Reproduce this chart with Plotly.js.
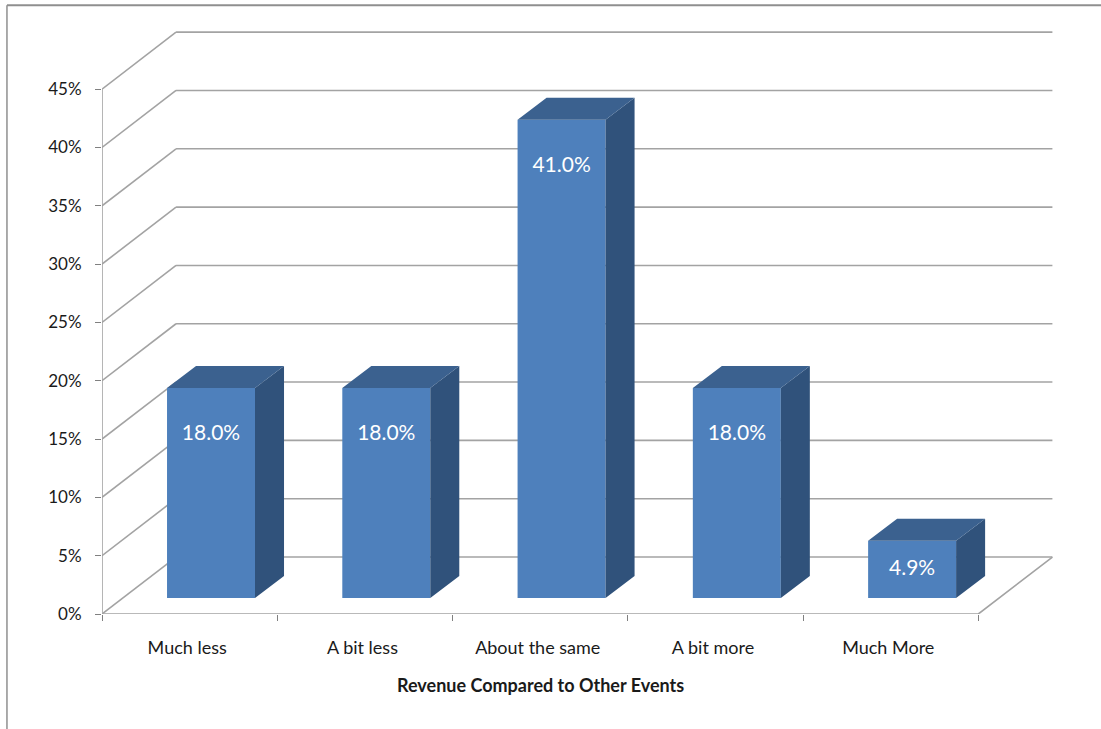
<!DOCTYPE html>
<html>
<head>
<meta charset="utf-8">
<script src="https://cdn.plot.ly/plotly-3.0.1.min.js"></script>
<style>html,body{margin:0;padding:0;background:#fff;overflow:hidden}#chart{width:1101px;height:729px}</style>
</head>
<body>
<div id="chart"></div>
<script>
// Survey responses
const categories = ['Much less', 'A bit less', 'About the same', 'A bit more', 'Much More'];
const shares = [18.0, 18.0, 41.0, 18.0, 4.9];
const yTicks = [0, 5, 10, 15, 20, 25, 30, 35, 40, 45];
const xTitle = 'Revenue Compared to Other Events';

// Oblique projection of the 3-D box, in axis units
const wallDx = 0.4224, wallDy = 4.886;   // depth of the floor and side wall
const barDx = 0.1655, barDy = 1.886;     // depth of one column
const barLift = 1.37, barShift = 0.122;  // front face sits partly into the floor
const barWidth = 0.502;

// Axis scale and plot box in pixels
const pxX = 175.2, pxY = 11.667, originX = 102, originY = 614;
const xMax = 5.5, yMax = 50.5;
const W = 1101, H = 729;
const marginL = originX, marginB = H - originY;
const marginR = W - (originX + xMax * pxX), marginT = originY - yMax * pxY;
const plotW = xMax * pxX, plotH = yMax * pxY;

const gridColor = '#a3a3a3', frameColor = '#8f8f8f';
const textColor = '#1a1a1a', fontFamily = 'Lato, sans-serif';
const n = categories.length;

function line(x0, y0, x1, y1) {
  return {type: 'line', xref: 'x', yref: 'y', layer: 'below', x0, y0, x1, y1,
          line: {color: gridColor, width: 1.6}};
}

// Back wall rules and side wall diagonals for every tick, hidden behind the columns
const shapes = [];
yTicks.forEach(t => {
  shapes.push(line(wallDx, t + wallDy, n + wallDx, t + wallDy));
  shapes.push(line(0, t, wallDx, t + wallDy));
});

// Outer chart frame, running off the right and bottom of the page
const frameLeft = (7 - marginL) / plotW;
const frameTop = 1 + (marginT - 5) / plotH;
shapes.push({type: 'line', xref: 'paper', yref: 'paper', x0: frameLeft, x1: (W - marginL) / plotW,
             y0: frameTop, y1: frameTop, line: {color: frameColor, width: 2}});
shapes.push({type: 'line', xref: 'paper', yref: 'paper', x0: frameLeft, x1: frameLeft,
             y0: frameTop, y1: -marginB / plotH, line: {color: frameColor, width: 1.5}});

const left = i => i + 0.5 + barShift - barWidth / 2;
const right = i => i + 0.5 + barShift + barWidth / 2;
const topY = v => v + barLift;

const sideX = [], sideY = [], capX = [], capY = [];
shares.forEach((v, i) => {
  const r = right(i), l = left(i), t = topY(v);
  sideX.push(r, r + barDx, r + barDx, r, r, null);
  sideY.push(barLift, barLift + barDy, t + barDy, t, barLift, null);
  capX.push(l, l + barDx, r + barDx, r, l, null);
  capY.push(t, t + barDy, t + barDy, t, t, null);
});

// Labels sit near the top of tall columns and mid-height on short ones
const labelY = shares.map(v => Math.max(barLift + v / 2, topY(v) - 4));

const traces = [
  {type: 'bar', x: shares.map((v, i) => i + 0.5 + barShift), y: shares, base: barLift,
   width: barWidth, marker: {color: '#4e80bc', line: {width: 0}}, hoverinfo: 'skip'},
  {type: 'scatter', mode: 'lines', x: sideX, y: sideY, fill: 'toself', fillcolor: '#30527b',
   line: {width: 0, color: '#30527b'}, hoverinfo: 'skip'},
  {type: 'scatter', mode: 'lines', x: capX, y: capY, fill: 'toself', fillcolor: '#3b618f',
   line: {width: 0, color: '#3b618f'}, hoverinfo: 'skip'},
  // Axis lines and the floor edge straddle the plot boundary, so they are not clipped
  {type: 'scatter', mode: 'lines', cliponaxis: false,
   x: [0, 0, null, 0, n, n + wallDx], y: [45, 0, null, 0, 0, wallDy],
   line: {color: gridColor, width: 1.6}, hoverinfo: 'skip'},
  {type: 'scatter', mode: 'text', x: shares.map((v, i) => i + 0.5 + barShift), y: labelY,
   text: shares.map(v => v.toFixed(1) + '%'), textposition: 'middle center',
   textfont: {family: fontFamily, size: 21, color: '#ffffff'}, hoverinfo: 'skip'}
];

const layout = {
  width: W, height: H, showlegend: false,
  paper_bgcolor: '#ffffff', plot_bgcolor: 'rgba(0,0,0,0)',
  margin: {l: marginL, r: marginR, t: marginT, b: marginB, pad: 0},
  font: {family: fontFamily, size: 17, color: textColor},
  xaxis: {
    type: 'linear', range: [0, xMax], showgrid: false, zeroline: false, showline: false,
    tickmode: 'array', tickvals: categories.map((c, i) => i + 0.486), ticktext: categories,
    ticks: '', ticklabelstandoff: 21, tickfont: {size: 18, color: textColor},
    minor: {tickmode: 'array', tickvals: categories.map((c, i) => i).concat(n),
            ticks: 'outside', ticklen: 6, tickwidth: 1, tickcolor: '#808080', showgrid: false}
  },
  yaxis: {
    type: 'linear', range: [0, yMax], showgrid: false, zeroline: false, showline: false,
    tickmode: 'array', tickvals: yTicks, ticktext: yTicks.map(t => t + '%'),
    ticks: 'outside', ticklen: 6, tickwidth: 1, tickcolor: '#808080',
    ticklabelstandoff: 10, tickfont: {size: 17, color: textColor}
  },
  annotations: [{
    text: '<b>' + xTitle + '</b>', showarrow: false, xref: 'x', yref: 'paper',
    x: n / 2, y: -(684 + 1 - originY) / plotH, xanchor: 'center', yanchor: 'middle',
    font: {family: fontFamily, size: 18, color: textColor}
  }],
  shapes
};

Plotly.newPlot('chart', traces, layout, {displayModeBar: false, staticPlot: true});
</script>
</body>
</html>
